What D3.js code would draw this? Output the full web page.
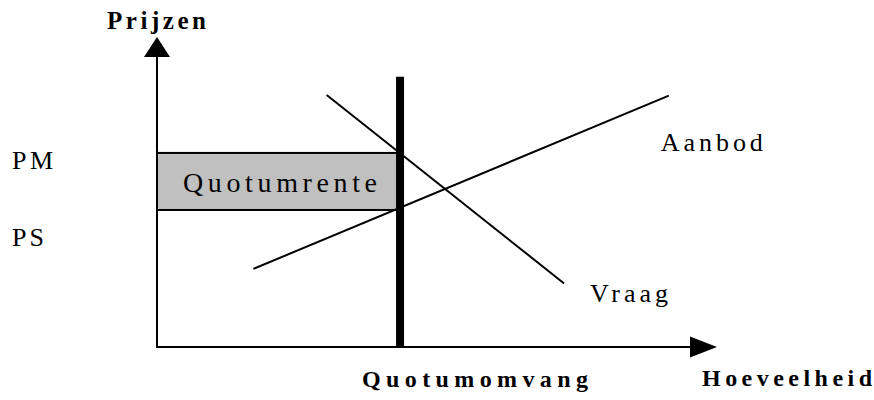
<!DOCTYPE html>
<html>
<head>
<meta charset="utf-8">
<script src="https://cdn.jsdelivr.net/npm/d3@7"></script>
<style>
  body { margin: 0; background: #fff; }
  svg { display: block; }
  text { font-family: "Liberation Serif", "Times New Roman", serif; fill: #000; }
</style>
</head>
<body>
<script>
// data (quantity 0-100, price 0-100)
const quotumQ = 43.4
const quotumTop = 87.2
const prijsLabels = ["PM", "PS"]
const prijsWaarden = [62.6, 44.2]
const vraagQ = [30.3, 72.7]
const vraagP = [81.3, 20.5]
const aanbodQ = [17.2, 91.4]
const aanbodP = [25.2, 81.1]
const curveLabels = ["Aanbod", "Vraag"]
const asLabels = ["Prijzen", "Hoeveelheid", "Quotumomvang"]
const renteLabel = "Quotumrente"

let width = 874, height = 400

let svg = d3.select("body")
    .append("svg")
    .attr("width", width)
    .attr("height", height)

let x = d3.scaleLinear().domain([0, 100]).range([157, 717])
let y = d3.scaleLinear().domain([0, 100]).range([347, 37])

// rectangle of the quota rent, between PS and PM
let pm = prijsWaarden[0], ps = prijsWaarden[1]
svg.append("rect")
    .attr("x", x(0))
    .attr("y", y(pm))
    .attr("width", x(quotumQ) - x(0))
    .attr("height", y(ps) - y(pm))
    .attr("fill", "#c0c0c0")
    .attr("stroke", "#000")
    .attr("stroke-width", 2)

svg.append("text")
    .attr("x", x(0) + 26)
    .attr("y", y(pm) + 39)
    .attr("font-size", 28)
    .attr("textLength", 194)
    .attr("lengthAdjust", "spacing")
    .text(renteLabel)

// axes: plain lines + arrow heads
svg.append("line")
    .attr("x1", x(0)).attr("y1", y(0))
    .attr("x2", x(0)).attr("y2", y(100) + 18)
    .attr("stroke", "#000").attr("stroke-width", 2)
svg.append("line")
    .attr("x1", x(0) - 1).attr("y1", y(0))
    .attr("x2", x(100) - 25).attr("y2", y(0))
    .attr("stroke", "#000").attr("stroke-width", 2)

svg.append("path")
    .attr("d", `M${x(0)},${y(100)} L${x(0) - 13},${y(100) + 20} L${x(0) + 13},${y(100) + 20} Z`)
    .attr("fill", "#000")
svg.append("path")
    .attr("d", `M${x(100)},${y(0)} L${x(100) - 27},${y(0) - 10.5} L${x(100) - 27},${y(0) + 10.5} Z`)
    .attr("fill", "#000")

// supply and demand
let line = d3.line().x(d => x(d[0])).y(d => y(d[1]))

svg.append("path")
    .datum(d3.zip(aanbodQ, aanbodP))
    .attr("d", line)
    .attr("fill", "none")
    .attr("stroke", "#000")
    .attr("stroke-width", 2)

svg.append("path")
    .datum(d3.zip(vraagQ, vraagP))
    .attr("d", line)
    .attr("fill", "none")
    .attr("stroke", "#000")
    .attr("stroke-width", 2)

// the quota: thick vertical bar
svg.append("line")
    .attr("x1", x(quotumQ)).attr("y1", y(0))
    .attr("x2", x(quotumQ)).attr("y2", y(quotumTop))
    .attr("stroke", "#000")
    .attr("stroke-width", 8)

// price labels on the left
let prijsDy = [16, 36], prijsLen = [41, 32]
prijsLabels.forEach((lab, i) => {
    svg.append("text")
        .attr("x", 12)
        .attr("y", y(prijsWaarden[i]) + prijsDy[i])
        .attr("font-size", 26)
        .attr("textLength", prijsLen[i])
        .attr("lengthAdjust", "spacing")
        .text(lab)
})

// curve labels
svg.append("text")
    .attr("x", x(aanbodQ[1]) - 8)
    .attr("y", y(aanbodP[1]) + 55)
    .attr("font-size", 26)
    .attr("textLength", 102)
    .attr("lengthAdjust", "spacing")
    .text(curveLabels[0])

svg.append("text")
    .attr("x", x(vraagQ[1]) + 26)
    .attr("y", y(vraagP[1]) + 19)
    .attr("font-size", 26)
    .attr("textLength", 78)
    .attr("lengthAdjust", "spacing")
    .text(curveLabels[1])

// bold axis titles
svg.append("text")
    .attr("x", 107)
    .attr("y", 29)
    .attr("font-size", 25)
    .attr("font-weight", "bold")
    .attr("textLength", 99)
    .attr("lengthAdjust", "spacing")
    .text(asLabels[0])

svg.append("text")
    .attr("x", 702)
    .attr("y", 386)
    .attr("font-size", 24)
    .attr("font-weight", "bold")
    .attr("textLength", 170)
    .attr("lengthAdjust", "spacing")
    .text(asLabels[1])

svg.append("text")
    .attr("x", 362)
    .attr("y", 387)
    .attr("font-size", 24)
    .attr("font-weight", "bold")
    .attr("textLength", 226)
    .attr("lengthAdjust", "spacing")
    .text(asLabels[2])
</script>
</body>
</html>
